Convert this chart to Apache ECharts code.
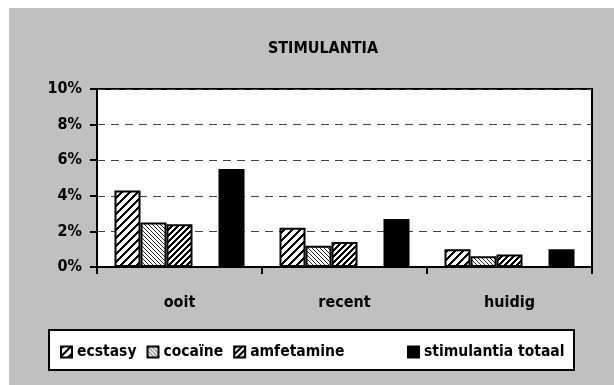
<!DOCTYPE html>
<html>
<head>
<meta charset="utf-8">
<style>
  html, body { margin: 0; padding: 0; background: #ffffff; }
  #chart { width: 614px; height: 385px; }
</style>
<script src="https://cdn.jsdelivr.net/npm/echarts@6/dist/echarts.min.js"></script>
</head>
<body>
<div id="chart"></div>
<script>
// Prevalence of stimulant use (percent) by period
const categories = ['ooit', 'recent', 'huidig'];
const ecstasy = [4.3, 2.2, 1.0];
const cocaine = [2.5, 1.2, 0.6];
const amfetamine = [2.4, 1.4, 0.7];
const stimulantiaTotaal = [5.5, 2.7, 1.0];
const yTicks = [0, 2, 4, 6, 8, 10];

const FONT = '"Liberation Sans Narrow", "DejaVu Sans Condensed", sans-serif';

// Hatch fill: diagonal stripes drawn pixel by pixel on a small tile
function hatch(period, width, dir, ink) {
  const c = document.createElement('canvas');
  c.width = period; c.height = period;
  const ctx = c.getContext('2d');
  const img = ctx.createImageData(period, period);
  for (let y = 0; y < period; y++) {
    for (let x = 0; x < period; x++) {
      const k = dir === '/' ? (x + y) % period : ((x - y) % period + period) % period;
      const on = k < width;
      const i = (y * period + x) * 4;
      const v = on ? ink : 255;
      img.data[i] = v; img.data[i + 1] = v; img.data[i + 2] = v; img.data[i + 3] = 255;
    }
  }
  ctx.putImageData(img, 0, 0);
  return { image: c, repeat: 'repeat' };
}

const fillEcstasy = hatch(8, 3, '/', 0);
const fillCocaine = hatch(4, 1, '\\', 40);
const fillAmfetamine = hatch(6, 3, '/', 0);

function barSeries(name, data, fill) {
  return {
    name: name,
    type: 'bar',
    data: data,
    barWidth: 26,
    barGap: '0%',
    itemStyle: { color: fill, borderColor: '#000', borderWidth: 2 },
    emphasis: { disabled: true }
  };
}

const legendText = { fontFamily: FONT, fontSize: 15.5, fontWeight: 'bold', color: '#000' };

const chart = echarts.init(document.getElementById('chart'), null, { renderer: 'canvas' });

chart.setOption({
  animation: false,
  backgroundColor: '#ffffff',
  textStyle: { fontFamily: FONT, fontWeight: 'bold', color: '#000' },
  graphic: [
    { type: 'rect', z: -10, shape: { x: 9, y: 8, width: 605, height: 377 }, style: { fill: '#c0c0c0' } },
    { type: 'rect', z: -5, shape: { x: 49, y: 330, width: 525, height: 40 },
      style: { fill: '#ffffff', stroke: '#000', lineWidth: 2 } }
  ],
  title: {
    text: 'STIMULANTIA',
    left: 318, top: 36, textAlign: 'center',
    textStyle: { fontFamily: FONT, fontSize: 16, fontWeight: 'bold', color: '#000' }
  },
  legend: [
    {
      data: ['ecstasy', 'cocaïne', 'amfetamine'],
      left: 60, top: 344, padding: 0, icon: 'rect',
      itemWidth: 11, itemHeight: 11, itemGap: 10,
      textStyle: legendText,
      selectedMode: false
    },
    {
      data: ['stimulantia totaal'],
      left: 407, top: 344, padding: 0, icon: 'rect',
      itemWidth: 11, itemHeight: 11,
      textStyle: legendText,
      selectedMode: false
    }
  ],
  grid: {
    left: 97, top: 89, width: 495, height: 178,
    show: true, backgroundColor: '#ffffff', borderColor: '#000', borderWidth: 2
  },
  xAxis: {
    type: 'category',
    data: categories,
    axisLine: { lineStyle: { color: '#000', width: 2 } },
    axisTick: { show: true, length: 7, lineStyle: { color: '#000', width: 2 } },
    axisLabel: { margin: 28, fontFamily: FONT, fontSize: 16, fontWeight: 'bold', color: '#000' }
  },
  yAxis: {
    type: 'value',
    min: yTicks[0], max: yTicks[yTicks.length - 1], interval: yTicks[1] - yTicks[0],
    axisLine: { show: true, lineStyle: { color: '#000', width: 2 } },
    axisTick: { show: true, length: 7, lineStyle: { color: '#000', width: 2 } },
    axisLabel: { margin: 15, formatter: '{value}%', fontFamily: FONT, fontSize: 16, fontWeight: 'bold', color: '#000' },
    splitLine: { show: true, lineStyle: { color: '#444', width: 1, type: [8, 6] } }
  },
  series: [
    barSeries('ecstasy', ecstasy, fillEcstasy),
    barSeries('cocaïne', cocaine, fillCocaine),
    barSeries('amfetamine', amfetamine, fillAmfetamine),
    barSeries(' ', [null, null, null], '#ffffff'),
    barSeries('stimulantia totaal', stimulantiaTotaal, '#000000')
  ]
});
</script>
</body>
</html>
